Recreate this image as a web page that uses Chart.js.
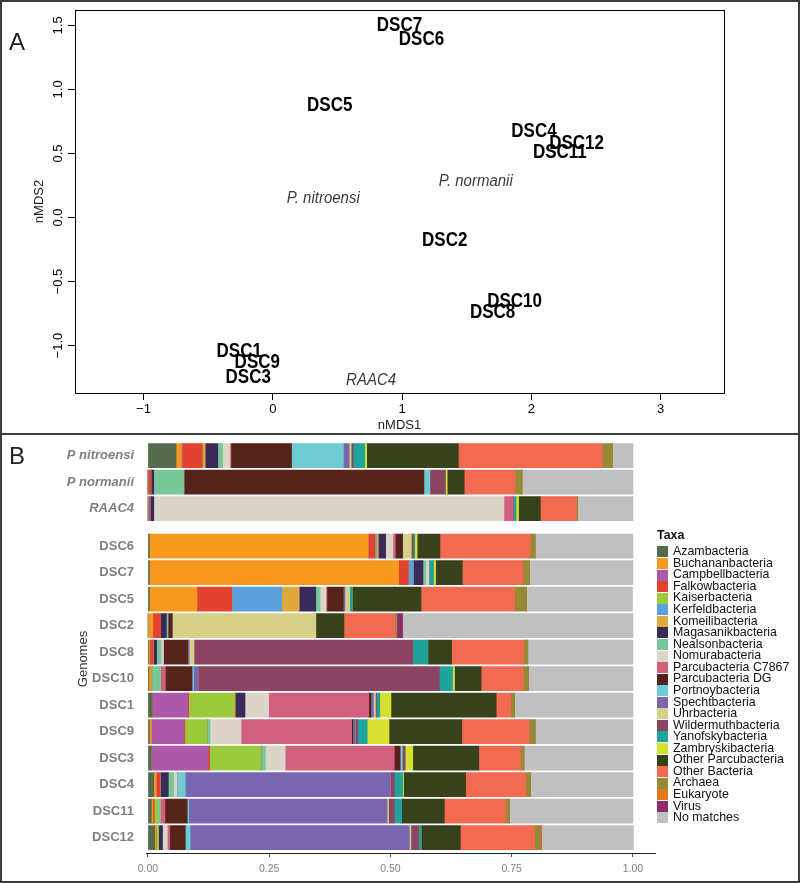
<!DOCTYPE html>
<html>
<head>
<meta charset="utf-8">
<script src="https://cdn.jsdelivr.net/npm/chart.js@4.4.1/dist/chart.umd.min.js"></script>
<style>
body{margin:0;background:#fff;font-family:"Liberation Sans",Arial,sans-serif}
#fig{position:relative;width:800px;height:883px;overflow:hidden;background:#fff}
canvas{position:absolute;left:0}
#cA{top:0}
#cB{top:436px}
.frame{position:absolute;left:0;width:800px;box-sizing:border-box;border:2px solid #3c3c3c;pointer-events:none}
#frA{top:0;height:435px}
#frB{top:433px;height:450px}
.tag{position:absolute;left:9px;font-size:24px;color:#222}
#legend{position:absolute;left:657px;top:528px;font-size:12.4px;color:#111}
#legend .ttl{font-weight:bold;height:14px;line-height:14px;margin-bottom:4.2px}
#legend .it{display:flex;align-items:center;height:11.57px;line-height:11.57px;white-space:nowrap}
#legend .sw{width:11px;height:11px;margin-right:5px;flex:none}
</style>
</head>
<body>
<div id="fig">
<canvas id="cA" width="800" height="434"></canvas>
<canvas id="cB" width="800" height="447"></canvas>
<div class="frame" id="frA"></div>
<div class="frame" id="frB"></div>
<div class="tag" style="top:28px">A</div>
<div class="tag" style="top:442px">B</div>
<div id="legend"></div>
</div>
<script>
// ---- panel A : nMDS of the genomes
const ordNames = ['DSC7','DSC6','DSC5','DSC4','DSC12','DSC11','P. normanii','P. nitroensi','DSC2','DSC10','DSC8','DSC1','DSC9','DSC3','RAAC4']
const nmds1 = [0.98,1.15,0.44,2.02,2.35,2.22,1.57,0.39,1.33,1.87,1.70,-0.26,-0.12,-0.19,0.76]
const nmds2 = [1.50,1.39,0.87,0.67,0.58,0.51,0.28,0.15,-0.18,-0.66,-0.74,-1.05,-1.13,-1.25,-1.27]
const refNames = ['P. normanii','P. nitroensi','RAAC4']
const ticksX = [-1,0,1,2,3]
const ticksY = [-1.0,-0.5,0.0,0.5,1.0,1.5]

// ---- panel B : taxonomy of the genes
const genomes = ['P nitroensi','P normanii','RAAC4','DSC6','DSC7','DSC5','DSC2','DSC8','DSC10','DSC1','DSC9','DSC3','DSC4','DSC11','DSC12']
const taxa = ['Azambacteria','Buchananbacteria','Campbellbacteria','Falkowbacteria','Kaiserbacteria','Kerfeldbacteria','Komeilibacteria','Magasanikbacteria','Nealsonbacteria','Nomurabacteria','Parcubacteria C7867','Parcubacteria DG','Portnoybacteria','Spechtbacteria','Uhrbacteria','Wildermuthbacteria','Yanofskybacteria','Zambryskibacteria','Other Parcubacteria','Other Bacteria','Archaea','Eukaryote','Virus','No matches']
const taxaColors = ['#566b4e','#f7991f','#ad58a8','#e2422f','#9bcb3c','#5aa1dc','#e0a73c','#3a2a59','#78c79a','#dcd4c6','#d1607f','#55231a','#6dcbd3','#7a66b0','#d6d088','#8b4562','#1fa39b','#d5e031','#37421d','#f26a50','#958a35','#e07a1c','#8d2c6b','#c0c0c0']
const ticksB = [0,0.25,0.5,0.75,1]

// fraction of genes per taxon, same order as taxa
const pNitroensi = [0.058,0.011,0.002,0.041,0,0,0.006,0.026,0.010,0.015,0.002,0.125,0.107,0.012,0.004,0.004,0.024,0.004,0.189,0.297,0.021,0,0,0.042]
const pNormanii  = [0,0,0,0.006,0,0,0,0.006,0.062,0,0,0.495,0.012,0,0,0.032,0,0.004,0.035,0.105,0.014,0,0,0.229]
const raac4      = [0,0,0.004,0,0,0,0,0.008,0,0.722,0.019,0,0,0,0,0,0.006,0.005,0.045,0.074,0.003,0,0,0.114]
const dsc6  = [0.003,0.451,0,0.014,0,0.003,0.004,0.015,0,0.015,0.005,0.015,0,0,0.018,0.004,0.003,0.005,0.047,0.186,0.010,0,0,0.202]
const dsc7  = [0.003,0.514,0,0.020,0,0.010,0,0.020,0.006,0.006,0,0,0,0,0,0,0.010,0.004,0.055,0.125,0.013,0,0,0.214]
const dsc5  = [0.003,0.098,0,0.072,0,0.103,0.036,0.034,0.009,0.012,0.002,0.034,0,0.003,0.010,0,0.005,0,0.142,0.193,0.024,0,0,0.219]
const dsc2  = [0,0.010,0,0.016,0,0,0,0.012,0.003,0,0,0.009,0,0,0.296,0,0,0,0.058,0.105,0.004,0,0.012,0.475]
const dsc8  = [0.002,0.002,0,0.007,0,0,0,0.007,0.009,0.005,0,0.050,0,0.003,0.010,0.451,0.031,0,0.049,0.149,0.008,0,0,0.217]
const dsc10 = [0.002,0.004,0,0,0.003,0,0,0,0.017,0,0.010,0.055,0.003,0.009,0,0.498,0.027,0.004,0.055,0.087,0.010,0,0,0.216]
const dsc1  = [0.009,0,0.073,0.002,0.093,0,0.003,0.020,0,0.049,0.206,0.005,0,0.005,0.004,0.002,0.007,0.023,0.217,0.030,0.008,0,0,0.244]
const dsc9  = [0.003,0.004,0.067,0.002,0.046,0,0,0,0.006,0.064,0.228,0.003,0,0.004,0,0.005,0.020,0.045,0.150,0.139,0.012,0,0,0.202]
const dsc3  = [0.007,0,0.117,0.003,0.106,0,0,0,0.009,0.041,0.225,0.012,0.004,0,0,0.006,0,0.016,0.136,0.086,0.007,0,0,0.225]
const dsc4  = [0.012,0.005,0,0.008,0,0,0,0.017,0.011,0.007,0,0,0.017,0.423,0,0.008,0.017,0.002,0.128,0.124,0.010,0,0,0.211]
const dsc11 = [0.007,0.003,0,0.003,0.007,0,0,0,0.005,0,0.010,0.046,0.003,0.409,0.003,0.012,0.015,0,0.088,0.126,0.008,0,0,0.255]
const dsc12 = [0.014,0.003,0,0,0.005,0,0,0.008,0,0.010,0.005,0.032,0.010,0.452,0.003,0.016,0.005,0,0.081,0.153,0.012,0.002,0,0.190]
const rows = [pNitroensi,pNormanii,raac4,dsc6,dsc7,dsc5,dsc2,dsc8,dsc10,dsc1,dsc9,dsc3,dsc4,dsc11,dsc12]

const FONT = '"Liberation Sans", Arial, sans-serif'
Chart.defaults.font.family = FONT

function minus(v, d){
  let s = v.toFixed(d)
  return v < 0 ? '\u2212' + s.slice(1) : s
}

// text labels sitting on the (invisible) ordination points
const ordLabels = {
  id:'ordLabels',
  afterDatasetsDraw(chart){
    let ctx = chart.ctx
    let meta = chart.getDatasetMeta(0)
    ctx.save()
    ctx.textAlign = 'center'
    ctx.textBaseline = 'middle'
    meta.data.forEach((pt,i)=>{
      let name = ordNames[i]
      ctx.save()
      ctx.translate(pt.x, pt.y)
      if(refNames.includes(name)){
        ctx.font = 'italic 15px ' + FONT
        ctx.fillStyle = '#3a3a3a'
        ctx.scale(1, 1.1)
      } else {
        ctx.font = 'bold 17px ' + FONT
        ctx.fillStyle = '#000'
        ctx.scale(1, 1.15)
      }
      ctx.fillText(name, 0, 0)
      ctx.restore()
    })
    ctx.restore()
  },
  afterDraw(chart){
    let ctx = chart.ctx
    let a = chart.chartArea
    ctx.save()
    ctx.strokeStyle = '#000'
    ctx.lineWidth = 1
    ctx.strokeRect(Math.round(a.left)+0.5, Math.round(a.top)+0.5, Math.round(a.right-a.left), Math.round(a.bottom-a.top))
    // R style y labels, turned parallel to the axis
    let ys = chart.scales.y
    ctx.fillStyle = '#000'
    ctx.font = '13px ' + FONT
    ctx.textAlign = 'center'
    ctx.textBaseline = 'middle'
    ticksY.forEach(v=>{
      ctx.save()
      ctx.translate(58, ys.getPixelForValue(v))
      ctx.rotate(-Math.PI/2)
      ctx.fillText(minus(v,1), 0, 0)
      ctx.restore()
    })
    ctx.restore()
  }
}

new Chart(document.getElementById('cA'), {
  type:'scatter',
  data:{datasets:[{data: nmds1.map((x,i)=>({x:x, y:nmds2[i]})), pointRadius:0}]},
  options:{
    animation:false, responsive:false,
    layout:{padding:{top:10, right:76, left:0, bottom:0}},
    plugins:{legend:{display:false}, tooltip:{enabled:false}},
    scales:{
      x:{type:'linear', min:-1.53, max:3.49,
        afterBuildTicks: s=>{ s.ticks = ticksX.map(v=>({value:v})) },
        afterFit: s=>{ s.height = 41 },
        grid:{drawOnChartArea:false, tickLength:7, color:'#000'},
        border:{color:'#000'},
        ticks:{color:'#000', font:{size:13}, padding:2, maxRotation:0, callback: v=>minus(v,0)},
        title:{display:true, text:'nMDS1', color:'#222', font:{size:13}, padding:{bottom:1, top:0}}
      },
      y:{type:'linear', min:-1.37, max:1.62,
        afterBuildTicks: s=>{ s.ticks = ticksY.map(v=>({value:v})) },
        afterFit: s=>{ s.width = 75 },
        grid:{drawOnChartArea:false, tickLength:7, color:'#000'},
        border:{color:'#000'},
        ticks:{display:false},
        title:{display:true, text:'nMDS2', color:'#222', font:{size:13}, padding:{top:32, bottom:0}}
      }
    }
  },
  plugins:[ordLabels]
})

// panel B, reference genomes set a little apart from the DSC bins
const refCount = 3
const groupGap = 0.42
const rowPos = genomes.map((g,i)=> i < refCount ? i : i + groupGap)

const datasets = taxa.map((t,k)=>({
  label:t,
  backgroundColor:taxaColors[k],
  borderWidth:0,
  barThickness:24,
  data: rows.map((r,i)=>({x:r[k], y:rowPos[i]}))
}))

// y title centred on the whole panel like ggplot does, not only on the bars
const genomesTitle = {
  id:'genomesTitle',
  afterDraw(chart){
    let ctx = chart.ctx
    let a = chart.chartArea
    ctx.save()
    ctx.fillStyle = '#333'
    ctx.font = '13px ' + FONT
    ctx.textAlign = 'center'
    ctx.textBaseline = 'middle'
    ctx.translate(83, (a.top + a.bottom)/2 + 12)
    ctx.rotate(-Math.PI/2)
    ctx.fillText('Genomes', 0, 0)
    ctx.restore()
  }
}

new Chart(document.getElementById('cB'), {
  type:'bar',
  data:{datasets},
  options:{
    indexAxis:'y', animation:false, responsive:false,
    layout:{padding:{top:5, right:144.7, left:0, bottom:0}},
    plugins:{legend:{display:false}, tooltip:{enabled:false}},
    scales:{
      x:{type:'linear', stacked:true, min:-0.004, max:1.046, offset:false,
        afterBuildTicks: s=>{ s.ticks = ticksB.map(v=>({value:v})) },
        afterFit: s=>{ s.height = 30; s.paddingLeft = 0; s.paddingRight = 0 },
        grid:{display:true, drawOnChartArea:false, drawTicks:true, tickLength:4, color:'#555'},
        border:{display:true, color:'#222', width:1},
        ticks:{color:'#808080', font:{size:10.5}, padding:6, maxRotation:0, callback: v=>v.toFixed(2)}
      },
      y:{type:'linear', stacked:true, reverse:true, min:-0.55, max:15.0, offset:false, grace:0,
        afterBuildTicks: s=>{ s.ticks = rowPos.map(v=>({value:v})) },
        afterFit: s=>{ s.width = 146; s.paddingTop = 0; s.paddingBottom = 0 },
        grid:{display:false, offset:false},
        border:{display:false},
        ticks:{autoSkip:false, padding:4, color:'#7f7f7f',
          callback: v=>genomes[rowPos.indexOf(v)],
          font: c=>({size:13, weight:'bold', style: (c.tick && rowPos.indexOf(c.tick.value) < refCount) ? 'italic' : 'normal'})
        }
      }
    }
  },
  plugins:[genomesTitle]
})

// legend of the taxa
let lg = document.getElementById('legend')
let html = '<div class="ttl">Taxa</div>'
taxa.forEach((t,k)=>{
  html += '<div class="it"><span class="sw" style="background:' + taxaColors[k] + '"></span>' + t + '</div>'
})
lg.innerHTML = html
</script>
</body>
</html>
